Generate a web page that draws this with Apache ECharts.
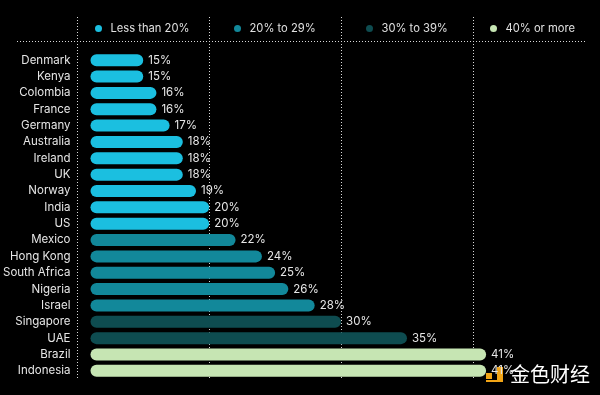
<!DOCTYPE html>
<html>
<head>
<meta charset="utf-8">
<script src="https://cdn.jsdelivr.net/npm/echarts@6/dist/echarts.min.js"></script>
<style>html,body{margin:0;padding:0;background:#000;}#c{width:600px;height:395px;}</style>
</head>
<body>
<div id="c"></div>
<script>
const categories = ['Denmark','Kenya','Colombia','France','Germany','Australia','Ireland','UK','Norway','India','US','Mexico','Hong Kong','South Africa','Nigeria','Israel','Singapore','UAE','Brazil','Indonesia'];
const values = [15,15,16,16,17,18,18,18,19,20,20,22,24,25,26,28,30,35,41,41];
const colorGroup = [0,0,0,0,0,0,0,0,0,0,0,1,1,1,1,1,2,2,3,3];
const groupNames = ['Less than 20%','20% to 29%','30% to 39%','40% or more'];
const groupColors = ['#1BBFE0','#12889A','#0E4C50','#C6E5B3'];
const gridTicks = [10,20,30,40];

const FONT = 'Inter, "Noto Sans", sans-serif';
const chart = echarts.init(document.getElementById('c'));
const legendLeft = [90, 229, 361, 485];

const series = groupNames.map((name, g) => ({
  name: name,
  type: 'bar',
  stack: 'all',
  barWidth: 12,
  data: values.map((v, i) => colorGroup[i] === g ? v : null),
  itemStyle: { color: groupColors[g], borderRadius: 6 },
  label: {
    show: true, position: 'right', distance: 5,
    formatter: '{c}%', color: '#e6e6e6', fontSize: 11.5, fontFamily: FONT
  }
}));

chart.setOption({
  backgroundColor: '#000',
  animation: false,
  legend: groupNames.map((n, g) => ({
    data: [n], left: legendLeft[g], top: 18, icon: 'circle',
    itemWidth: 14, itemHeight: 7,
    textStyle: { color: '#e0e0e0', fontSize: 11.2, fontFamily: FONT },
    selectedMode: false
  })),
  grid: { left: 90, right: 15, top: 52, bottom: 16 },
  xAxis: {
    type: 'value', min: 11, max: 48.5,
    axisLine: { show: false }, axisTick: { show: false },
    axisLabel: { show: false }, splitLine: { show: false }
  },
  yAxis: {
    type: 'category', data: categories, inverse: true,
    axisLine: { show: false }, axisTick: { show: false },
    axisLabel: { color: '#e6e6e6', fontSize: 11.5, fontFamily: FONT, margin: 20 }
  },
  series: series
});

const lines = gridTicks.map(v => {
  const x = Math.round(chart.convertToPixel({ xAxisIndex: 0 }, v)) + 0.5;
  return {
    type: 'line', silent: true, z: 0,
    shape: { x1: x, y1: 17, x2: x, y2: 380 },
    style: { stroke: '#d8d8d8', lineWidth: 1, lineDash: [1, 2] }
  };
});
lines.push({
  type: 'line', silent: true, z: 0,
  shape: { x1: 17, y1: 41.5, x2: 585, y2: 41.5 },
  style: { stroke: '#d8d8d8', lineWidth: 1, lineDash: [1, 2] }
});
// watermark
lines.push({
  type: 'group', z: 100,
  children: [
    { type: 'rect', shape: { x: 486, y: 373, width: 6, height: 6 }, style: { fill: '#F2A516' } },
    { type: 'polygon', shape: { points: [[497,367],[503,367],[503,382],[486,382],[486,380],[497,380]] }, style: { fill: '#F2A516' } },
    { type: 'text', style: { x: 510, y: 374, text: '金色财经', fill: '#ffffff', fontSize: 20, fontFamily: '"Noto Sans CJK SC"', verticalAlign: 'middle' } }
  ]
});
chart.setOption({ graphic: { elements: lines } });
</script>
</body>
</html>
